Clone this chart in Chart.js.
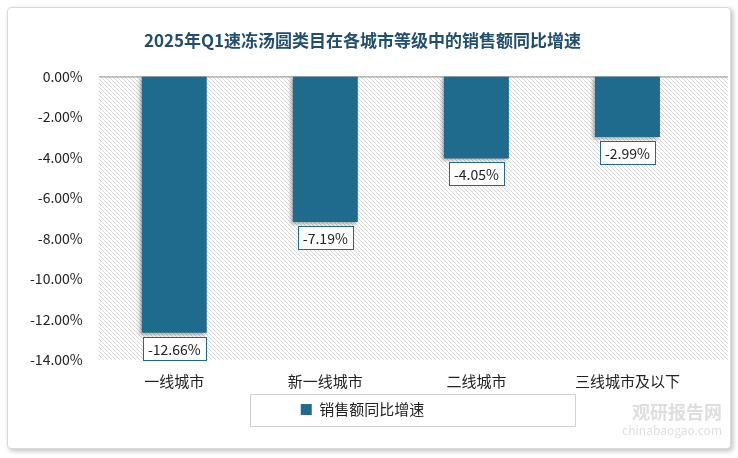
<!DOCTYPE html>
<html><head><meta charset="utf-8">
<script src="https://cdn.jsdelivr.net/npm/chart.js@4.4.0/dist/chart.umd.min.js"></script>
<style>
  html,body{margin:0;padding:0;background:#fff;}
  #frame{position:absolute;left:7px;top:7px;width:722px;height:440px;border:1px solid #d9d9d9;border-radius:4px;box-shadow:2px 2px 5px rgba(0,0,0,.25);background:#fff;}
  #wrap{position:absolute;left:0;top:0;width:738px;height:458px;}
</style></head>
<body>
<div id="frame"></div>
<div id="wrap"><canvas id="c" width="738" height="458"></canvas></div>
<script>
const TITLE = '2025年Q1速冻汤圆类目在各城市等级中的销售额同比增速';
const categories = ['一线城市', '新一线城市', '二线城市', '三线城市及以下'];
const growth = [-12.66, -7.19, -4.05, -2.99];
const seriesName = '销售额同比增速';
const BAR = '#1f6b8e';
const FONT = '"Noto Sans CJK SC", "Noto Sans", sans-serif';

function hatch(ctx) {
  const p = document.createElement('canvas');
  p.width = 4; p.height = 4;
  const g = p.getContext('2d');
  g.fillStyle = '#fff'; g.fillRect(0, 0, 4, 4);
  g.strokeStyle = '#d6d6d6'; g.lineWidth = 1;
  g.beginPath(); g.moveTo(0, 0); g.lineTo(4, 4); g.stroke();
  g.beginPath(); g.moveTo(-1, 3); g.lineTo(1, 5); g.stroke();
  g.beginPath(); g.moveTo(3, -1); g.lineTo(5, 1); g.stroke();
  return ctx.createPattern(p, 'repeat');
}

const extras = {
  id: 'extras',
  beforeDatasetsDraw(chart) {
    const { ctx, chartArea: a } = chart;
    const right = a.right + 25;
    ctx.save();
    ctx.fillStyle = hatch(ctx);
    ctx.fillRect(a.left, a.top, right - a.left, a.bottom - a.top);
    ctx.strokeStyle = '#8c8c8c'; ctx.lineWidth = 1;
    ctx.beginPath(); ctx.moveTo(a.left, a.top + 0.5); ctx.lineTo(right, a.top + 0.5); ctx.stroke();
    ctx.restore();
    ctx.save();
    ctx.shadowColor = 'rgba(0,0,0,0.35)'; ctx.shadowBlur = 4; ctx.shadowOffsetX = -2; ctx.shadowOffsetY = 2;
  },
  afterDatasetsDraw(chart) {
    const { ctx } = chart;
    ctx.restore();
    const meta = chart.getDatasetMeta(0);
    ctx.save();
    ctx.font = '14px ' + FONT;
    ctx.textAlign = 'center'; ctx.textBaseline = 'middle';
    meta.data.forEach((bar, i) => {
      const txt = growth[i].toFixed(2) + '%';
      const w = ctx.measureText(txt).width + 10, h = 23;
      const x = bar.x, y = bar.y + 4 + h / 2;
      ctx.fillStyle = '#fff';
      ctx.fillRect(x - w / 2, y - h / 2, w, h);
      ctx.strokeStyle = BAR; ctx.lineWidth = 1;
      ctx.strokeRect(Math.round(x - w / 2) + 0.5, Math.round(y - h / 2) + 0.5, Math.round(w), h);
      ctx.fillStyle = '#222';
      ctx.fillText(txt, x, y + 1);
    });
    ctx.restore();
  },
  afterDraw(chart) {
    const { ctx } = chart;
    ctx.save();
    ctx.strokeStyle = '#d0d0d0'; ctx.lineWidth = 1;
    ctx.strokeRect(250.5, 394.5, 325, 32);
    ctx.font = 'bold 18px ' + FONT;
    ctx.fillStyle = 'rgba(160,160,160,0.35)';
    ctx.textAlign = 'right';
    ctx.fillText('观研报告网', 722, 412);
    ctx.font = '12px ' + FONT;
    ctx.fillText('chinabaogao.com', 722, 430);
    ctx.restore();
  }
};

new Chart(document.getElementById('c'), {
  type: 'bar',
  data: {
    labels: categories,
    datasets: [{ label: seriesName, data: growth, backgroundColor: BAR, barPercentage: 0.43, categoryPercentage: 1 }]
  },
  options: {
    responsive: false, animation: false,
    layout: { padding: { left: 22, right: 35, top: 6, bottom: 31 } },
    plugins: {
      title: { display: true, text: TITLE, color: '#1f4e6e', font: { family: FONT, size: 17, weight: 'bold' }, padding: { top: 24, bottom: 26 } },
      legend: { position: 'bottom', labels: { boxWidth: 11, boxHeight: 11, color: '#222', font: { family: FONT, size: 15 }, padding: 8 } },
      tooltip: { enabled: false }
    },
    scales: {
      y: {
        min: -14, max: 0,
        ticks: { stepSize: 2, color: '#222', font: { family: FONT, size: 14 }, padding: 8, callback: v => v.toFixed(2) + '%' },
        grid: { display: false }, border: { display: false }
      },
      x: {
        ticks: { color: '#222', font: { family: FONT, size: 15 }, padding: 4 },
        grid: { display: false }, border: { display: false }
      }
    }
  },
  plugins: [extras]
});
</script>
</body></html>
